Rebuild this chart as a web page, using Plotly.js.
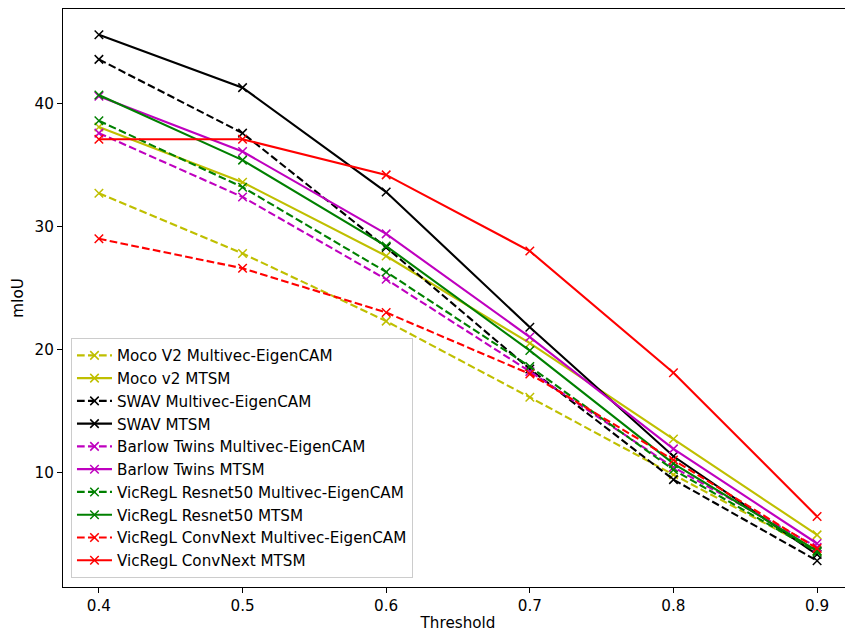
<!DOCTYPE html>
<html>
<head>
<meta charset="utf-8">
<script src="https://cdn.plot.ly/plotly-3.0.1.min.js"></script>
<style>
html,body{margin:0;padding:0;overflow:hidden;background:#fff;}
#chart{width:860px;height:632px;}
</style>
</head>
<body>
<div id="chart"></div>
<script>
const thresholds = [0.4, 0.5, 0.6, 0.7, 0.8, 0.9];

const mocoMultivec   = [32.7, 27.8, 22.3, 16.1, 9.8, 3.6];
const mocoMTSM       = [38.1, 33.6, 27.6, 20.5, 12.7, 4.9];
const swavMultivec   = [43.6, 37.6, 28.3, 18.4, 9.4, 2.8];
const swavMTSM       = [45.6, 41.3, 32.8, 21.8, 11.3, 3.3];
const barlowMultivec = [37.6, 32.4, 25.7, 18.2, 10.4, 3.9];
const barlowMTSM     = [40.6, 36.1, 29.4, 21.0, 11.9, 4.2];
const vicR50Multivec = [38.6, 33.2, 26.3, 18.6, 10.2, 3.5];
const vicR50MTSM     = [40.7, 35.4, 28.4, 19.9, 10.7, 3.6];
const vicCNMultivec  = [29.0, 26.6, 23.0, 18.0, 11.0, 3.8];
const vicCNMTSM      = [37.1, 37.1, 34.2, 28.0, 18.1, 6.4];

const seriesNames = [
  "Moco V2 Multivec-EigenCAM", "Moco v2 MTSM",
  "SWAV Multivec-EigenCAM", "SWAV MTSM",
  "Barlow Twins Multivec-EigenCAM", "Barlow Twins MTSM",
  "VicRegL Resnet50 Multivec-EigenCAM", "VicRegL Resnet50 MTSM",
  "VicRegL ConvNext Multivec-EigenCAM", "VicRegL ConvNext MTSM"
];
const seriesValues = [mocoMultivec, mocoMTSM, swavMultivec, swavMTSM,
  barlowMultivec, barlowMTSM, vicR50Multivec, vicR50MTSM, vicCNMultivec, vicCNMTSM];
const seriesColors = ["#bfbf00","#bfbf00","#000000","#000000","#bf00bf","#bf00bf",
  "#008000","#008000","#ff0000","#ff0000"];
const seriesDashed = [true,false,true,false,true,false,true,false,true,false];

const traces = seriesNames.map((name, i) => ({
  type: "scatter",
  mode: "lines+markers",
  name: name,
  x: thresholds,
  y: seriesValues[i],
  line: {color: seriesColors[i], width: 2.1, dash: seriesDashed[i] ? "7.7px,3.3px" : "solid"},
  marker: {symbol: "x-thin-open", size: 8.5, color: seriesColors[i],
           line: {color: seriesColors[i], width: 1.5}}
}));

const font = {family: "DejaVu Sans, sans-serif", size: 15.2, color: "#000"};

const layout = {
  width: 860, height: 632,
  margin: {l: 63, r: 7, t: 9, b: 45, pad: 0},
  paper_bgcolor: "#fff", plot_bgcolor: "#fff",
  font: font,
  showlegend: true,
  legend: {
    x: 0.0101, y: 0.0156, xanchor: "left", yanchor: "bottom",
    bgcolor: "rgba(255,255,255,0.8)", bordercolor: "#cccccc", borderwidth: 1,
    font: {family: "DejaVu Sans, sans-serif", size: 15.2, color: "#000"},
    tracegroupgap: 0, itemwidth: 35
  },
  xaxis: {
    range: [0.375, 0.925],
    tickvals: [0.4, 0.5, 0.6, 0.7, 0.8, 0.9],
    ticktext: ["0.4", "0.5", "0.6", "0.7", "0.8", "0.9"],
    ticks: "outside", ticklen: 5, tickwidth: 1.1, tickcolor: "#000",
    showline: true, linecolor: "#000", linewidth: 1.1, mirror: true,
    showgrid: false, zeroline: false,
    title: {text: "Threshold", font: font, standoff: 5}
  },
  yaxis: {
    range: [0.66, 47.7],
    tickvals: [10, 20, 30, 40],
    ticktext: ["10", "20", "30", "40"],
    ticks: "outside", ticklen: 5, tickwidth: 1.1, tickcolor: "#000",
    showline: true, linecolor: "#000", linewidth: 1.1, mirror: true,
    showgrid: false, zeroline: false,
    title: {text: "mIoU", font: font, standoff: 7}
  }
};

Plotly.newPlot("chart", traces, layout, {displayModeBar: false, staticPlot: true});
</script>
</body>
</html>
